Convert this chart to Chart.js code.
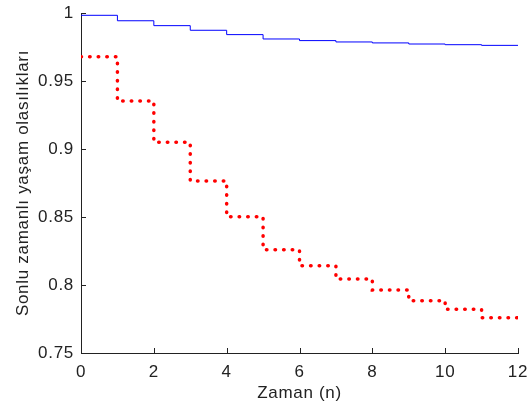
<!DOCTYPE html>
<html lang="tr">
<head>
  <title>Sonlu zamanli yasam olasiliklari</title>
  <script src="https://cdn.jsdelivr.net/npm/chart.js"></script>
  <style>
    body { margin: 0; background: #fff; }
    #wrap { width: 530px; height: 408px; }
  </style>
</head>
<body>
<div id="wrap"><canvas id="c" width="530" height="408"></canvas></div>
<script>
  // time steps and the two probability curves
  const times = [0, 1, 2, 3, 4, 5, 6, 7, 8, 9, 10, 11, 12];
  const blueValues = [0.9983, 0.9943, 0.9907, 0.9873, 0.9841, 0.9809, 0.9797, 0.9787, 0.9780, 0.9772, 0.9767, 0.9762, 0.9762];
  const redValues = [0.9679, 0.9353, 0.9049, 0.8765, 0.8502, 0.8260, 0.8142, 0.8044, 0.7963, 0.7885, 0.7821, 0.7760, 0.7760];
  const xTicks = [0, 2, 4, 6, 8, 10, 12];
  const yTicks = [0.75, 0.8, 0.85, 0.9, 0.95, 1];
  const yTickLabels = ['0.75', '0.8', '0.85', '0.9', '0.95', '1'];

  const toPoints = vals => times.map((t, i) => ({ x: t, y: vals[i] }));

  // matlab text is a bit wider than Liberation Sans, add some spacing
  const spacing = {
    id: 'spacing',
    beforeLayout(chart) { chart.ctx.letterSpacing = '0.7px'; },
    beforeDraw(chart) { chart.ctx.letterSpacing = '0.7px'; }
  };

  // Matlab style: tick marks pointing into the plot
  const inwardTicks = {
    id: 'inwardTicks',
    afterDraw(chart) {
      const { ctx, chartArea: a, scales } = chart;
      ctx.save();
      ctx.strokeStyle = '#222';
      ctx.lineWidth = 1;
      ctx.beginPath();
      xTicks.forEach(v => {
        const px = Math.round(scales.x.getPixelForValue(v)) + 0.5;
        ctx.moveTo(px, a.bottom);
        ctx.lineTo(px, a.bottom - 5);
      });
      yTicks.forEach(v => {
        const py = Math.round(scales.y.getPixelForValue(v)) + 0.5;
        ctx.moveTo(a.left, py);
        ctx.lineTo(a.left + 5, py);
      });
      ctx.stroke();
      ctx.restore();
    }
  };

  Chart.defaults.font.family = '"Liberation Sans", Arial, sans-serif';
  Chart.defaults.color = '#222';

  new Chart(document.getElementById('c'), {
    type: 'line',
    data: {
      datasets: [
        {
          data: toPoints(blueValues),
          borderColor: '#0000ff',
          borderWidth: 1,
          stepped: true,
          pointRadius: 0,
          fill: false
        },
        {
          data: toPoints(redValues),
          borderColor: '#ff0000',
          borderWidth: 3.5,
          borderDash: [0.5, 8.1],
          borderCapStyle: 'round',
          stepped: true,
          pointRadius: 0,
          fill: false
        }
      ]
    },
    options: {
      responsive: false,
      animation: false,
      layout: { padding: { top: 13, right: 12, left: 0, bottom: 0 } },
      plugins: { legend: { display: false }, tooltip: { enabled: false } },
      scales: {
        x: {
          type: 'linear',
          min: 0,
          max: 12,
          afterBuildTicks: s => { s.ticks = xTicks.map(v => ({ value: v })); },
          afterFit: s => { s.height = 55; s.paddingLeft = 0; s.paddingRight = 0; },
          grid: { display: false, drawTicks: false },
          border: { display: true, color: '#222', width: 1 },
          ticks: { font: { size: 17 }, padding: 9, maxRotation: 0 },
          title: { display: true, text: 'Zaman (n)', font: { size: 17 }, padding: { top: 0, bottom: 4 } }
        },
        y: {
          min: 0.75,
          max: 1,
          afterBuildTicks: s => { s.ticks = yTicks.map(v => ({ value: v })); },
          afterFit: s => { s.width = 81; s.paddingTop = 0; s.paddingBottom = 0; },
          grid: { display: false, drawTicks: false },
          border: { display: true, color: '#222', width: 1 },
          ticks: {
            font: { size: 17 },
            padding: 7,
            callback: v => yTickLabels[yTicks.indexOf(v)] ?? ''
          },
          title: { display: true, text: 'Sonlu zamanlı yaşam olasılıkları', font: { size: 17 }, padding: { top: 13, bottom: 0 } }
        }
      }
    },
    plugins: [spacing, inwardTicks]
  });
</script>
</body>
</html>
